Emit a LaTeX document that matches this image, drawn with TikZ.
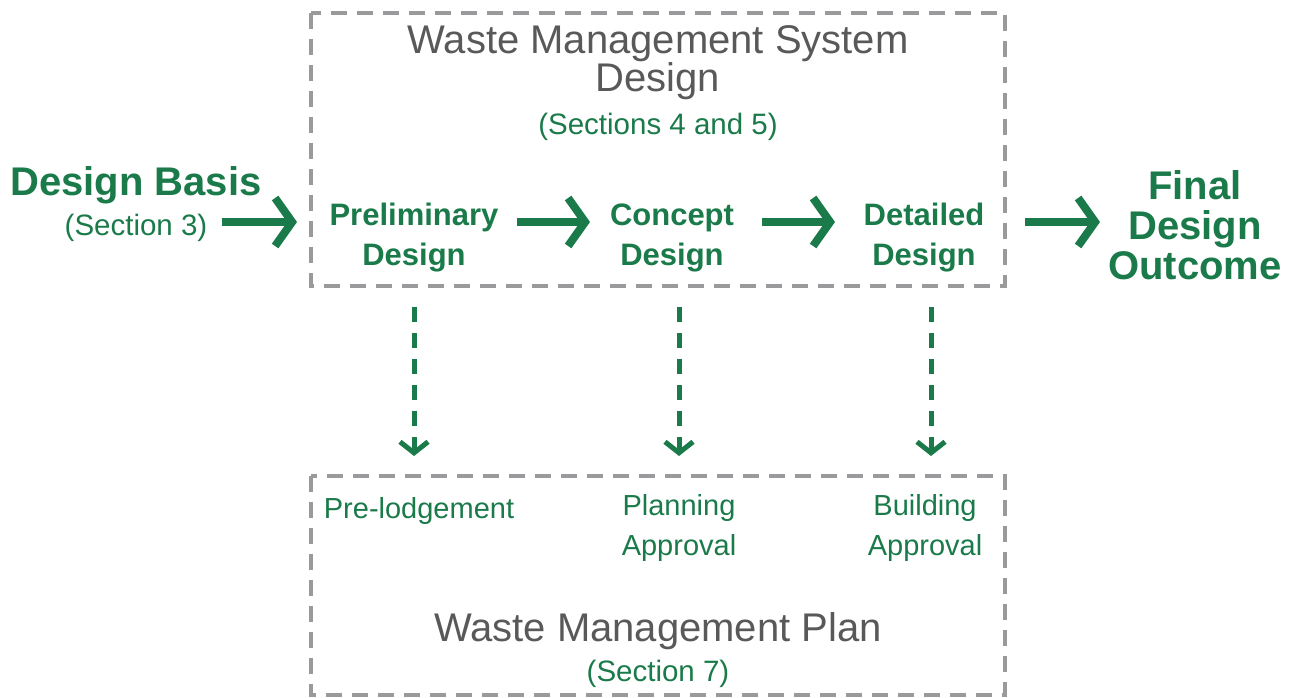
\documentclass[tikz,border=0pt]{standalone}
\usepackage{fontspec}
\setmainfont{Liberation Sans}
\usetikzlibrary{arrows.meta}
\definecolor{dgreen}{RGB}{26,122,74}
\definecolor{bgray}{RGB}{154,154,156}
\definecolor{tgray}{RGB}{89,89,89}
\begin{document}
\begin{tikzpicture}[x=1pt,y=-1pt,
  box/.style={draw=bgray,line width=4pt,dash pattern=on 16pt off 10pt},
  bigarrow/.style={draw=dgreen,line width=8pt,-{Straight Barb[length=17pt,width=48pt,line width=8pt]}},
  dasharrow/.style={draw=dgreen,line width=5pt,dash pattern=on 15pt off 11pt,-{Straight Barb[length=11pt,width=28pt,line width=5pt]}},
  title/.style={text=tgray,font=\fontsize{40}{38}\selectfont,align=center,inner sep=0pt},
  sub/.style={text=dgreen,font=\fontsize{29.5}{40}\selectfont,align=center,inner sep=0pt},
  stage/.style={text=dgreen,font=\fontsize{31}{40}\bfseries\selectfont,align=center,inner sep=0pt},
  big/.style={text=dgreen,font=\fontsize{40}{40}\bfseries\selectfont,align=center,inner sep=0pt},
  lab/.style={text=dgreen,font=\fontsize{29}{40}\selectfont,align=center,inner sep=0pt}]
\useasboundingbox (0,0) rectangle (1295,698);
% boxes
\draw[box] (311,13) rectangle (1005,286);
\draw[box] (311,476) rectangle (1005,695);
% titles
\node[title] (wmsd) at (658,63) {Waste Management System\\Design};
\node[sub] (s45) at (658,127) {(Sections 4 and 5)};
\node[title] (wmp) at (658,631) {Waste Management Plan};
\node[sub] (s7) at (658,674) {(Section 7)};
% left / right
\node[big] (basis) at (136,185) {Design Basis};
\node[sub] (s3) at (136,228) {(Section 3)};
\node[big] (final) at (1195,225) {Final\\Design\\Outcome};
% stages
\node[stage] (pre) at (414,238) {Preliminary\\Design};
\node[stage] (con) at (672,238) {Concept\\Design};
\node[stage] (det) at (924,238) {Detailed\\Design};
% approvals
\node[lab] (plod) at (419,511) {Pre-lodgement};
\node[lab] (plan) at (679,528) {Planning\\Approval};
\node[lab] (build) at (925,528) {Building\\Approval};
% arrow coordinates
\coordinate (a1s) at (222,222); \coordinate (a1e) at (297,222);
\coordinate (a2s) at (517,222); \coordinate (a2e) at (590,222);
\coordinate (a3s) at (762,222); \coordinate (a3e) at (835,222);
\coordinate (a4s) at (1025,222); \coordinate (a4e) at (1100,222);
\draw[bigarrow] (a1s) -- (a1e);
\draw[bigarrow] (a2s) -- (a2e);
\draw[bigarrow] (a3s) -- (a3e);
\draw[bigarrow] (a4s) -- (a4e);
\coordinate (d1s) at (414,307); \coordinate (d1e) at (414,456);
\coordinate (d2s) at (679,307); \coordinate (d2e) at (679,456);
\coordinate (d3s) at (931,307); \coordinate (d3e) at (931,456);
\draw[dasharrow] (d1s) -- (d1e);
\draw[dasharrow] (d2s) -- (d2e);
\draw[dasharrow] (d3s) -- (d3e);
\end{tikzpicture}
\end{document}
